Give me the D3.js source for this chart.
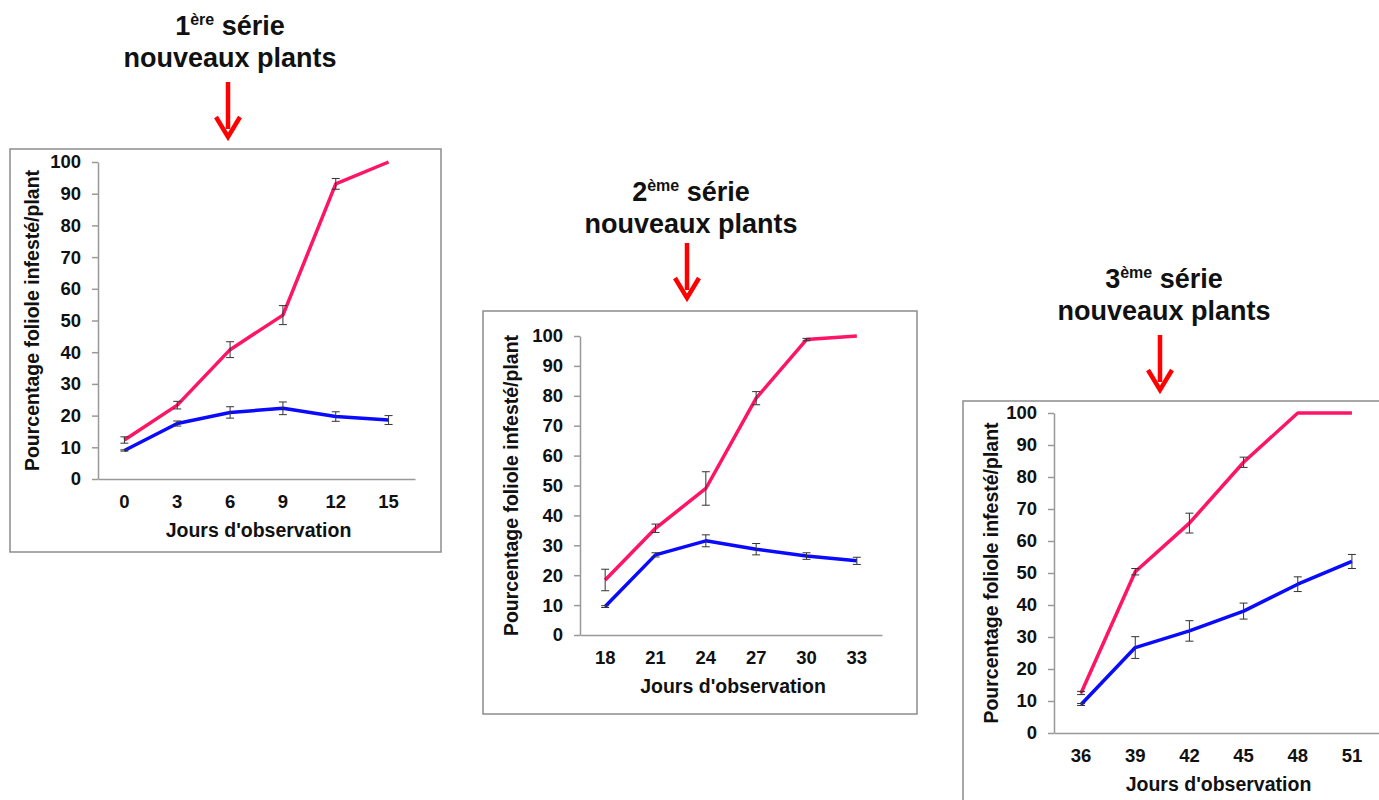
<!DOCTYPE html>
<html>
<head>
<meta charset="utf-8">
<script src="https://cdn.jsdelivr.net/npm/d3@7"></script>
<style>
  body { margin: 0; background: #fff; }
  svg { display: block; font-family: "Liberation Sans", Arial, sans-serif; }
</style>
</head>
<body>
<div id="chart"></div>
<script>
// --- data ---
const yTicks = [0, 10, 20, 30, 40, 50, 60, 70, 80, 90, 100];

const days1 = [0, 3, 6, 9, 12, 15];
const red1 = [12.3, 23.3, 40.8, 51.7, 93.1, 100];
const redErr1 = [1.0, 1.2, 2.5, 3.0, 1.7, 0];
const blue1 = [9.0, 17.5, 21.0, 22.3, 19.7, 18.6];
const blueErr1 = [0.2, 0.8, 1.8, 2.0, 1.5, 1.4];

const days2 = [18, 21, 24, 27, 30, 33];
const red2 = [18.4, 35.7, 49.0, 79.2, 98.8, 100];
const redErr2 = [3.6, 1.4, 5.6, 2.2, 0.4, 0];
const blue2 = [9.5, 26.8, 31.5, 28.7, 26.4, 24.8];
const blueErr2 = [0.3, 0.7, 2.0, 1.9, 1.1, 1.2];

const days3 = [36, 39, 42, 45, 48, 51];
const red3 = [12.5, 50.4, 65.6, 84.6, 100, 100];
const redErr3 = [0.5, 1.0, 3.1, 1.6, 0, 0];
const blue3 = [8.9, 26.7, 31.9, 38.1, 46.5, 53.6];
const blueErr3 = [0.3, 3.4, 3.2, 2.5, 2.3, 2.2];

const titles = ["1", "2", "3"];
const titleSup = ["ère", "ème", "ème"];

const yLabel = "Pourcentage foliole infesté/plant";
const xLabel = "Jours d'observation";

const width = 1379, height = 800;
const redColor = "#ff1466", blueColor = "#0a0aff";

const svg = d3.select("#chart").append("svg")
    .attr("width", width)
    .attr("height", height);

// layout of each panel (positions only)
const panels = [
    { days: days1, red: red1, redErr: redErr1, blue: blue1, blueErr: blueErr1,
      box: [10, 149, 431, 403], plot: [98, 415, 162, 479], yLabX: 32, titleX: 230, titleY: 35, arrowX: 228, arrowY: [82, 137] },
    { days: days2, red: red2, redErr: redErr2, blue: blue2, blueErr: blueErr2,
      box: [483, 311, 434, 403], plot: [580, 882, 336, 635], yLabX: 511, titleX: 691, titleY: 201, arrowX: 687, arrowY: [243, 298] },
    { days: days3, red: red3, redErr: redErr3, blue: blue3, blueErr: blueErr3,
      box: [963, 401, 440, 420], plot: [1054, 1379, 413, 733], yLabX: 991, titleX: 1164, titleY: 288, arrowX: 1160, arrowY: [335, 390] }
];

panels.forEach((p, i) => drawPanel(p, i));

function drawPanel(p, i) {
    const [left, right, top, bottom] = p.plot;

    // frame
    svg.append("rect")
        .attr("x", p.box[0]).attr("y", p.box[1])
        .attr("width", p.box[2]).attr("height", p.box[3])
        .attr("fill", "#fff")
        .attr("stroke", "#8c8c8c")
        .attr("stroke-width", 1.5);

    const x = d3.scaleBand()
        .domain(p.days)
        .range([left, right]);

    const y = d3.scaleLinear()
        .domain([0, 100])
        .range([bottom, top]);

    const cx = d => x(d) + x.bandwidth() / 2;

    // y axis
    const yAxis = svg.append("g")
        .attr("transform", `translate(${left},0)`)
        .call(d3.axisLeft(y).tickValues(yTicks).tickSize(6).tickPadding(11).tickSizeOuter(0));
    yAxis.select(".domain").attr("stroke", "#999").attr("stroke-width", 1.5);
    yAxis.selectAll(".tick line").attr("stroke", "#999").attr("stroke-width", 1.5);
    yAxis.selectAll(".tick text")
        .attr("fill", "#111")
        .style("font-size", "18.5px")
        .style("font-weight", "bold")
        .style("font-family", "'Liberation Sans', Arial, sans-serif");

    // x axis
    const xAxis = svg.append("g")
        .attr("transform", `translate(0,${bottom})`)
        .call(d3.axisBottom(x).tickSize(0).tickPadding(16).tickSizeOuter(0));
    xAxis.select(".domain").attr("stroke", "#999").attr("stroke-width", 1.5);
    xAxis.selectAll(".tick text")
        .attr("fill", "#111")
        .style("font-size", "18.5px")
        .style("font-weight", "bold")
        .style("font-family", "'Liberation Sans', Arial, sans-serif");

    // axis labels
    svg.append("text")
        .attr("x", (left + Math.min(right, 1379)) / 2 + 2)
        .attr("y", bottom + 58)
        .attr("text-anchor", "middle")
        .style("font-size", "19.5px")
        .style("font-weight", "bold")
        .attr("fill", "#111")
        .text(xLabel);

    svg.append("text")
        .attr("transform", `translate(${p.yLabX},${(top + bottom) / 2}) rotate(-90)`)
        .attr("text-anchor", "middle")
        .attr("dy", "0.35em")
        .style("font-size", "19.5px")
        .style("font-weight", "bold")
        .attr("fill", "#111")
        .text(yLabel);

    // lines
    const series = [
        { v: p.red, e: p.redErr, c: redColor },
        { v: p.blue, e: p.blueErr, c: blueColor }
    ];

    const line = d3.line()
        .x((d, k) => cx(p.days[k]))
        .y(d => y(d));

    series.forEach(s => {
        svg.append("path")
            .datum(s.v)
            .attr("d", line)
            .attr("fill", "none")
            .attr("stroke", s.c)
            .attr("stroke-width", 3.5)
            .attr("stroke-linejoin", "round");
    });

    // error bars
    series.forEach(s => {
        const g = svg.append("g").attr("stroke", "#333").attr("stroke-width", 1);
        s.v.forEach((v, k) => {
            if (!s.e[k]) return;
            const xx = cx(p.days[k]);
            const y1 = y(v - s.e[k]), y2 = y(v + s.e[k]);
            g.append("line").attr("x1", xx).attr("x2", xx).attr("y1", y1).attr("y2", y2);
            g.append("line").attr("x1", xx - 4).attr("x2", xx + 4).attr("y1", y1).attr("y2", y1);
            g.append("line").attr("x1", xx - 4).attr("x2", xx + 4).attr("y1", y2).attr("y2", y2);
        });
    });

    // title
    const t1 = svg.append("text")
        .attr("x", p.titleX)
        .attr("y", p.titleY)
        .attr("text-anchor", "middle")
        .style("font-size", "27px")
        .style("font-weight", "bold")
        .attr("fill", "#111");
    t1.append("tspan").text(titles[i]);
    t1.append("tspan").attr("dy", -10).style("font-size", "16px").text(titleSup[i]);
    t1.append("tspan").attr("dy", 10).text(" série");

    svg.append("text")
        .attr("x", p.titleX)
        .attr("y", p.titleY + 32)
        .attr("text-anchor", "middle")
        .style("font-size", "27px")
        .style("font-weight", "bold")
        .attr("fill", "#111")
        .text("nouveaux plants");

    // red arrow
    const [a0, a1] = p.arrowY;
    svg.append("line")
        .attr("x1", p.arrowX).attr("x2", p.arrowX)
        .attr("y1", a0).attr("y2", a1 - 8)
        .attr("stroke", "#ff0000")
        .attr("stroke-width", 4.5);
    svg.append("path")
        .attr("d", `M${p.arrowX - 12},${a1 - 20} L${p.arrowX},${a1} L${p.arrowX + 12},${a1 - 20}`)
        .attr("fill", "none")
        .attr("stroke", "#ff0000")
        .attr("stroke-width", 4.5)
        .attr("stroke-linejoin", "miter");
}
</script>
</body>
</html>
